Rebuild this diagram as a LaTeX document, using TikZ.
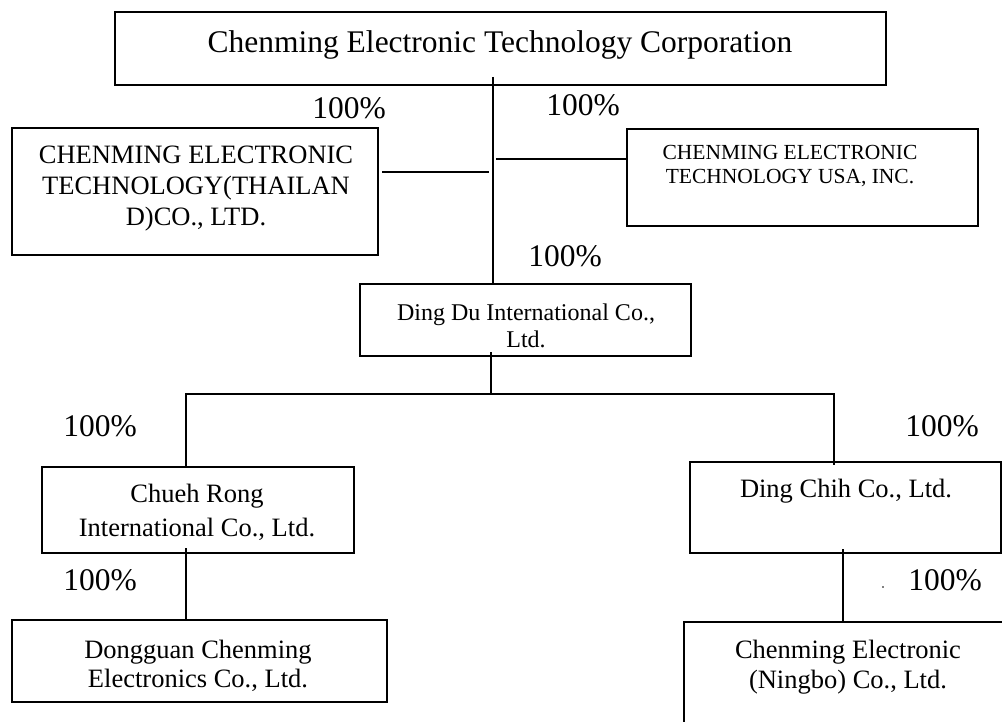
\documentclass[tikz,border=0pt]{standalone}
\usepackage{fontspec}
\setmainfont{Liberation Serif}

\tikzset{
  firm/.style={draw, line width=1.6pt, anchor=north west, inner sep=0pt, outer sep=0pt},
  firmtext/.style={align=center, inner sep=0pt},
  pct/.style={font=\fontsize{31.5}{36}\selectfont, inner sep=0pt},
  link/.style={line width=1.3pt},
}

\begin{document}
\begin{tikzpicture}[x=1pt, y=-1pt]
  \clip (0,0) rectangle (1002,722);
  % boxes
  \node[firm, minimum width=771pt, minimum height=73pt] (top) at (115,12) {};
  \node[firm, minimum width=366pt, minimum height=127pt] (thai) at (12,128) {};
  \node[firm, minimum width=351pt, minimum height=97pt] (usa) at (627,129) {};
  \node[firm, minimum width=331pt, minimum height=72pt] (dingdu) at (360,284) {};
  \node[firm, minimum width=312pt, minimum height=86pt] (chueh) at (42,467) {};
  \node[firm, minimum width=311pt, minimum height=91pt] (dingchih) at (690,462) {};
  \node[firm, minimum width=375pt, minimum height=82pt] (dongguan) at (12,620) {};
  \node[firm, minimum width=340pt, minimum height=130pt] (ningbo) at (684,622) {};
  % company names
  \node[firmtext, font=\fontsize{31.5}{36}\selectfont] (top-t) at (500,45) {Chenming Electronic Technology Corporation};
  \node[firmtext, font=\fontsize{26.5}{31}\selectfont] (thai-t) at (196,189) {CHENMING ELECTRONIC\\TECHNOLOGY(THAILAN\\D)CO., LTD.};
  \node[firmtext, font=\fontsize{21.5}{24.5}\selectfont] (usa-t) at (790,166) {CHENMING ELECTRONIC\\TECHNOLOGY USA, INC.};
  \node[firmtext, font=\fontsize{24}{27.5}\selectfont] (dingdu-t) at (526,326) {Ding Du International Co.,\\Ltd.};
  \node[firmtext, font=\fontsize{26.5}{34}\selectfont] (chueh-t) at (197,512) {Chueh Rong\\International Co., Ltd.};
  \node[firmtext, font=\fontsize{26.5}{31}\selectfont] (dingchih-t) at (846,491) {Ding Chih Co., Ltd.};
  \node[firmtext, font=\fontsize{26.5}{29}\selectfont] (dongguan-t) at (198,666) {Dongguan Chenming\\Electronics Co., Ltd.};
  \node[firmtext, font=\fontsize{26.5}{30}\selectfont] (ningbo-t) at (848,667) {Chenming Electronic\\(Ningbo) Co., Ltd.};
  % shares
  \node[pct] (p-thai) at (349,108) {100\%};
  \node[pct] (p-usa) at (583,105) {100\%};
  \node[pct] (p-dingdu) at (565,256) {100\%};
  \node[pct] (p-chueh) at (100,426) {100\%};
  \node[pct] (p-dingchih) at (942,426) {100\%};
  \node[pct] (p-dongguan) at (100,580) {100\%};
  \node[pct] (p-ningbo) at (945,580) {100\%};
  \fill (883,587) circle (0.9pt);
  % lines
  \coordinate (trunk) at (493,0);
  \coordinate (stem) at (491,0);
  \coordinate (bar) at (0,394);
  \coordinate (leftdrop) at (186,0);
  \coordinate (rightdrop) at (834,0);
  \coordinate (ndrop) at (843,0);
  \coordinate (thaijoin) at (489,172);
  \coordinate (usajoin) at (496,159);
  \draw[link] ([yshift=8pt]top.south -| trunk) -- (dingdu.north -| trunk);
  \draw[link, line width=2pt] ([xshift=4pt]thai.east |- thaijoin) -- (thaijoin);
  \draw[link] (usajoin) -- (usa.west |- usajoin);
  \draw[link] ([yshift=4pt]dingdu.south -| stem) -- (stem |- bar);
  \draw[link] (chueh.north -| leftdrop) -- (leftdrop |- bar) -- (rightdrop |- bar) -- ([yshift=-3pt]dingchih.north -| rightdrop);
  \draw[link] ([yshift=5pt]chueh.south -| leftdrop) -- (dongguan.north -| leftdrop);
  \draw[link] ([yshift=4pt]dingchih.south -| ndrop) -- (ningbo.north -| ndrop);
\end{tikzpicture}
\end{document}
